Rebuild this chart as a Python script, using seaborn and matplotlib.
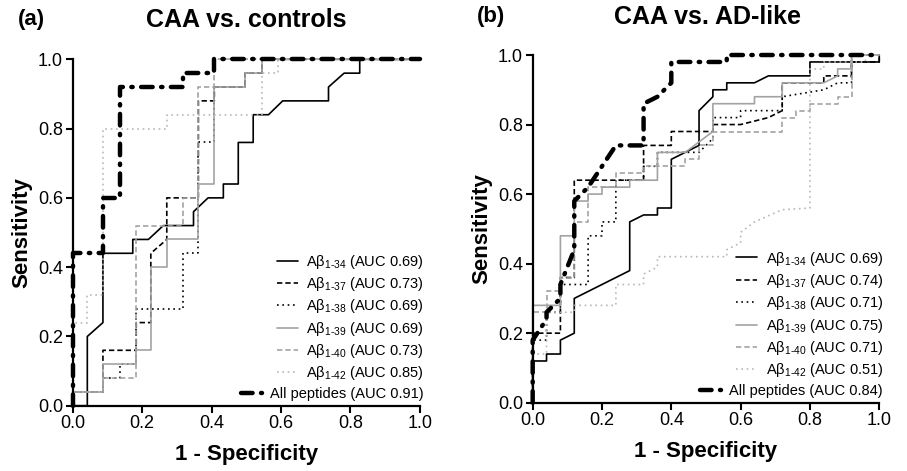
import matplotlib
matplotlib.use("Agg")
import matplotlib.pyplot as plt
import seaborn as sns

# ---- data (1 - specificity, sensitivity) ----
peptides = ["1-34", "1-37", "1-38", "1-39", "1-40", "1-42"]

auc_controls = [0.69, 0.73, 0.69, 0.69, 0.73, 0.85, 0.91]
auc_adlike = [0.69, 0.74, 0.71, 0.75, 0.71, 0.51, 0.84]

ctrl_34_x = [0, 0.042, 0.042, 0.087, 0.087, 0.173, 0.173, 0.218, 0.261, 0.348, 0.348, 0.390, 0.434,
             0.434, 0.477, 0.477, 0.520, 0.520, 0.564, 0.605, 0.737, 0.737, 0.782, 0.827, 0.827, 1.0]
ctrl_34_y = [0, 0, 0.20, 0.24, 0.44, 0.44, 0.48, 0.48, 0.52, 0.52, 0.56, 0.60, 0.60,
             0.64, 0.64, 0.76, 0.76, 0.84, 0.84, 0.88, 0.88, 0.92, 0.96, 0.96, 1.0, 1.0]
ctrl_37_x = [0, 0, 0.087, 0.087, 0.183, 0.183, 0.225, 0.225, 0.271, 0.271, 0.362, 0.362, 0.408,
             0.408, 0.496, 0.496, 0.545, 0.545, 1.0]
ctrl_37_y = [0, 0.04, 0.04, 0.16, 0.16, 0.24, 0.24, 0.44, 0.48, 0.60, 0.60, 0.88, 0.88,
             0.92, 0.92, 0.96, 0.96, 1.0, 1.0]
ctrl_38_x = [0, 0, 0.087, 0.087, 0.136, 0.136, 0.183, 0.183, 0.319, 0.319, 0.362, 0.362, 0.408,
             0.408, 0.496, 0.496, 0.545, 0.545, 1.0]
ctrl_38_y = [0, 0.04, 0.04, 0.08, 0.08, 0.12, 0.12, 0.28, 0.28, 0.44, 0.44, 0.76, 0.76,
             0.92, 0.92, 0.96, 0.96, 1.0, 1.0]
ctrl_39_x = [0, 0, 0.087, 0.087, 0.183, 0.183, 0.225, 0.225, 0.271, 0.271, 0.362, 0.362, 0.408,
             0.408, 0.496, 0.496, 0.545, 0.545, 1.0]
ctrl_39_y = [0, 0.04, 0.04, 0.12, 0.12, 0.16, 0.16, 0.40, 0.40, 0.48, 0.48, 0.64, 0.64,
             0.92, 0.92, 0.96, 0.96, 1.0, 1.0]
ctrl_40_x = [0, 0, 0.087, 0.087, 0.183, 0.183, 0.317, 0.317, 0.362, 0.362, 0.408, 0.408, 1.0]
ctrl_40_y = [0, 0.04, 0.04, 0.08, 0.08, 0.52, 0.52, 0.60, 0.60, 0.92, 0.92, 1.0, 1.0]
ctrl_42_x = [0, 0, 0.042, 0.042, 0.087, 0.087, 0.271, 0.271, 0.545, 0.545, 0.592, 0.592, 1.0]
ctrl_42_y = [0, 0.24, 0.24, 0.32, 0.32, 0.80, 0.80, 0.84, 0.84, 0.96, 0.96, 1.0, 1.0]
ctrl_all_x = [0, 0, 0.087, 0.087, 0.136, 0.136, 0.319, 0.319, 0.408, 0.408, 1.0]
ctrl_all_y = [0, 0.44, 0.44, 0.60, 0.60, 0.92, 0.92, 0.96, 0.96, 1.0, 1.0]

ad_34_x = [0, 0, 0.04, 0.04, 0.08, 0.08, 0.12, 0.12, 0.28, 0.28, 0.32, 0.36, 0.36, 0.40,
           0.40, 0.48, 0.48, 0.52, 0.52, 0.56, 0.56, 0.64, 0.68, 0.80, 0.80, 1.0, 1.0]
ad_34_y = [0, 0.12, 0.12, 0.14, 0.14, 0.18, 0.20, 0.30, 0.38, 0.52, 0.54, 0.54, 0.56, 0.56,
           0.70, 0.74, 0.84, 0.88, 0.90, 0.90, 0.92, 0.92, 0.94, 0.94, 0.98, 0.98, 1.0]
ad_37_x = [0, 0, 0.08, 0.08, 0.12, 0.12, 0.32, 0.32, 0.40, 0.40, 0.52, 0.52, 0.60, 0.68,
           0.72, 0.72, 0.84, 0.84, 0.92, 0.92, 1.0, 1.0]
ad_37_y = [0, 0.20, 0.20, 0.36, 0.36, 0.64, 0.64, 0.74, 0.74, 0.78, 0.78, 0.80, 0.80, 0.82,
           0.84, 0.92, 0.92, 0.94, 0.94, 0.98, 0.98, 1.0]
ad_38_x = [0, 0, 0.04, 0.04, 0.08, 0.08, 0.16, 0.16, 0.20, 0.20, 0.24, 0.24, 0.32, 0.32,
           0.36, 0.36, 0.48, 0.52, 0.52, 0.60, 0.60, 0.72, 0.72, 0.84, 0.88, 0.92, 0.92, 1.0]
ad_38_y = [0, 0.18, 0.18, 0.26, 0.26, 0.34, 0.34, 0.48, 0.48, 0.52, 0.52, 0.64, 0.64, 0.68,
           0.68, 0.72, 0.72, 0.76, 0.82, 0.82, 0.84, 0.84, 0.88, 0.90, 0.92, 0.92, 1.0, 1.0]
ad_39_x = [0, 0, 0.08, 0.08, 0.12, 0.12, 0.16, 0.16, 0.20, 0.20, 0.28, 0.28, 0.36, 0.36,
           0.44, 0.52, 0.52, 0.64, 0.64, 0.72, 0.72, 0.84, 0.88, 0.88, 0.92, 0.92, 1.0]
ad_39_y = [0, 0.28, 0.28, 0.48, 0.48, 0.58, 0.58, 0.60, 0.60, 0.62, 0.62, 0.64, 0.64, 0.72,
           0.72, 0.78, 0.86, 0.86, 0.88, 0.88, 0.92, 0.92, 0.94, 0.96, 0.96, 1.0, 1.0]
ad_40_x = [0, 0, 0.04, 0.04, 0.08, 0.08, 0.12, 0.12, 0.16, 0.16, 0.24, 0.24, 0.32, 0.32, 0.44,
           0.44, 0.48, 0.48, 0.52, 0.52, 0.72, 0.72, 0.76, 0.76, 0.80, 0.80, 0.88, 0.88, 0.92,
           0.92, 1.0]
ad_40_y = [0, 0.26, 0.26, 0.32, 0.32, 0.36, 0.36, 0.52, 0.52, 0.62, 0.62, 0.66, 0.66, 0.68, 0.68,
           0.70, 0.70, 0.74, 0.74, 0.78, 0.78, 0.82, 0.82, 0.84, 0.84, 0.86, 0.86, 0.88, 0.88,
           1.0, 1.0]
ad_42_x = [0, 0, 0.04, 0.04, 0.12, 0.12, 0.24, 0.24, 0.32, 0.32, 0.36, 0.36, 0.56, 0.56, 0.60,
           0.60, 0.64, 0.72, 0.80, 0.80, 0.84, 0.84, 0.96, 0.96, 1.0]
ad_42_y = [0, 0.14, 0.14, 0.26, 0.26, 0.28, 0.28, 0.34, 0.34, 0.37, 0.39, 0.42, 0.42, 0.44, 0.46,
           0.49, 0.52, 0.555, 0.56, 0.96, 0.96, 0.98, 0.98, 1.0, 1.0]
ad_all_x = [0, 0, 0.04, 0.04, 0.08, 0.08, 0.12, 0.12, 0.16, 0.20, 0.24, 0.32, 0.32, 0.36, 0.40,
            0.40, 0.56, 0.56, 1.0]
ad_all_y = [0, 0.18, 0.24, 0.26, 0.30, 0.34, 0.44, 0.58, 0.62, 0.68, 0.74, 0.74, 0.86, 0.88, 0.92,
            0.98, 0.98, 1.0, 1.0]

ticks = [0.0, 0.2, 0.4, 0.6, 0.8, 1.0]

# line styles: solid, dashed, dotted black; solid, dashed, dotted grey; thick dash-dot
styles = [
    dict(color="black", linestyle="-", lw=1.2),
    dict(color="black", linestyle=(0, (3.2, 1.8)), lw=1.2),
    dict(color="black", linestyle=(0, (1, 2.2)), lw=1.2),
    dict(color="#a3a3a3", linestyle="-", lw=1.2),
    dict(color="#a3a3a3", linestyle=(0, (3.2, 1.8)), lw=1.2),
    dict(color="#b8b8b8", linestyle=(0, (1, 2.2)), lw=1.2),
    dict(color="black", linestyle=(0, (2.6, 1.9, 0.3, 1.9)), lw=3.2, dash_capstyle="round"),
]

sns.set_theme(style="ticks")
plt.rcParams["font.family"] = ["Liberation Sans", "DejaVu Sans"]
plt.rcParams["mathtext.fontset"] = "custom"
plt.rcParams["mathtext.rm"] = "Liberation Sans"
plt.rcParams["mathtext.it"] = "Liberation Sans:italic"
plt.rcParams["mathtext.bf"] = "Liberation Sans:bold"
plt.rcParams["mathtext.default"] = "regular"
for key in ("text.color", "axes.labelcolor", "xtick.color", "ytick.color", "axes.edgecolor"):
    plt.rcParams[key] = "black"


def label_for(pep, auc):
    lo, hi = pep.split("-")
    return "A\u03b2$_{" + lo + r"\text{-}" + hi + "}$ (AUC " + f"{auc:.2f})"


def draw_panel(ax, curves, aucs, legend_anchor):
    labels = [label_for(p, a) for p, a in zip(peptides, aucs[:6])]
    labels.append(f"All peptides (AUC {aucs[6]:.2f})")
    for (xs, ys), lab, st in zip(curves, labels, styles):
        sns.lineplot(x=xs, y=ys, sort=False, estimator=None, ax=ax, label=lab,
                     clip_on=False, **st)
    ax.set_xlim(0, 1)
    ax.set_ylim(0, 1)
    ax.set_xticks(ticks)
    ax.set_yticks(ticks)
    ax.set_xticklabels([f"{t:.1f}" for t in ticks])
    ax.set_yticklabels([f"{t:.1f}" for t in ticks])
    ax.tick_params(direction="out", length=5, width=1.5, labelsize=13, pad=2,
                   color="black", labelcolor="black")
    for side in ("top", "right"):
        ax.spines[side].set_visible(False)
    for side in ("left", "bottom"):
        ax.spines[side].set_linewidth(1.6)
        ax.spines[side].set_color("black")
    ax.set_xlabel("1 - Specificity", fontsize=16, fontweight="bold", labelpad=8, color="black")
    ax.set_ylabel("Sensitivity", fontsize=16, fontweight="bold", labelpad=4, color="black")
    handles, labs = ax.get_legend_handles_labels()
    leg = ax.legend(handles, labs, loc="lower right", bbox_to_anchor=legend_anchor,
                    frameon=False, fontsize=10.5, handlelength=1.4, handletextpad=0.6,
                    labelspacing=0.3, borderpad=0, borderaxespad=0, labelcolor="black")
    # right-align rows like the original legend
    leg._legend_handle_box.get_children()[0].align = "right"
    return leg


fig = plt.figure(figsize=(9.07, 4.71), dpi=100)
ax_a = fig.add_axes([0.0802, 0.1386, 0.3826, 0.7355])
ax_b = fig.add_axes([0.5873, 0.1450, 0.3821, 0.7382])

ctrl_curves = [(ctrl_34_x, ctrl_34_y), (ctrl_37_x, ctrl_37_y), (ctrl_38_x, ctrl_38_y),
               (ctrl_39_x, ctrl_39_y), (ctrl_40_x, ctrl_40_y), (ctrl_42_x, ctrl_42_y),
               (ctrl_all_x, ctrl_all_y)]
ad_curves = [(ad_34_x, ad_34_y), (ad_37_x, ad_37_y), (ad_38_x, ad_38_y),
             (ad_39_x, ad_39_y), (ad_40_x, ad_40_y), (ad_42_x, ad_42_y),
             (ad_all_x, ad_all_y)]

draw_panel(ax_a, ctrl_curves, auc_controls, (1.012, 0.014))
draw_panel(ax_b, ad_curves, auc_adlike, (1.011, 0.014))

fig.text(0.0198, 0.958, "(a)", fontsize=16, fontweight="bold", va="center", ha="left")
fig.text(0.271, 0.958, "CAA vs. controls", fontsize=18, fontweight="bold", va="center", ha="center")
fig.text(0.5256, 0.964, "(b)", fontsize=16, fontweight="bold", va="center", ha="left")
fig.text(0.780, 0.964, "CAA vs. AD-like", fontsize=18, fontweight="bold", va="center", ha="center")

fig.savefig("out.png", dpi=100)
